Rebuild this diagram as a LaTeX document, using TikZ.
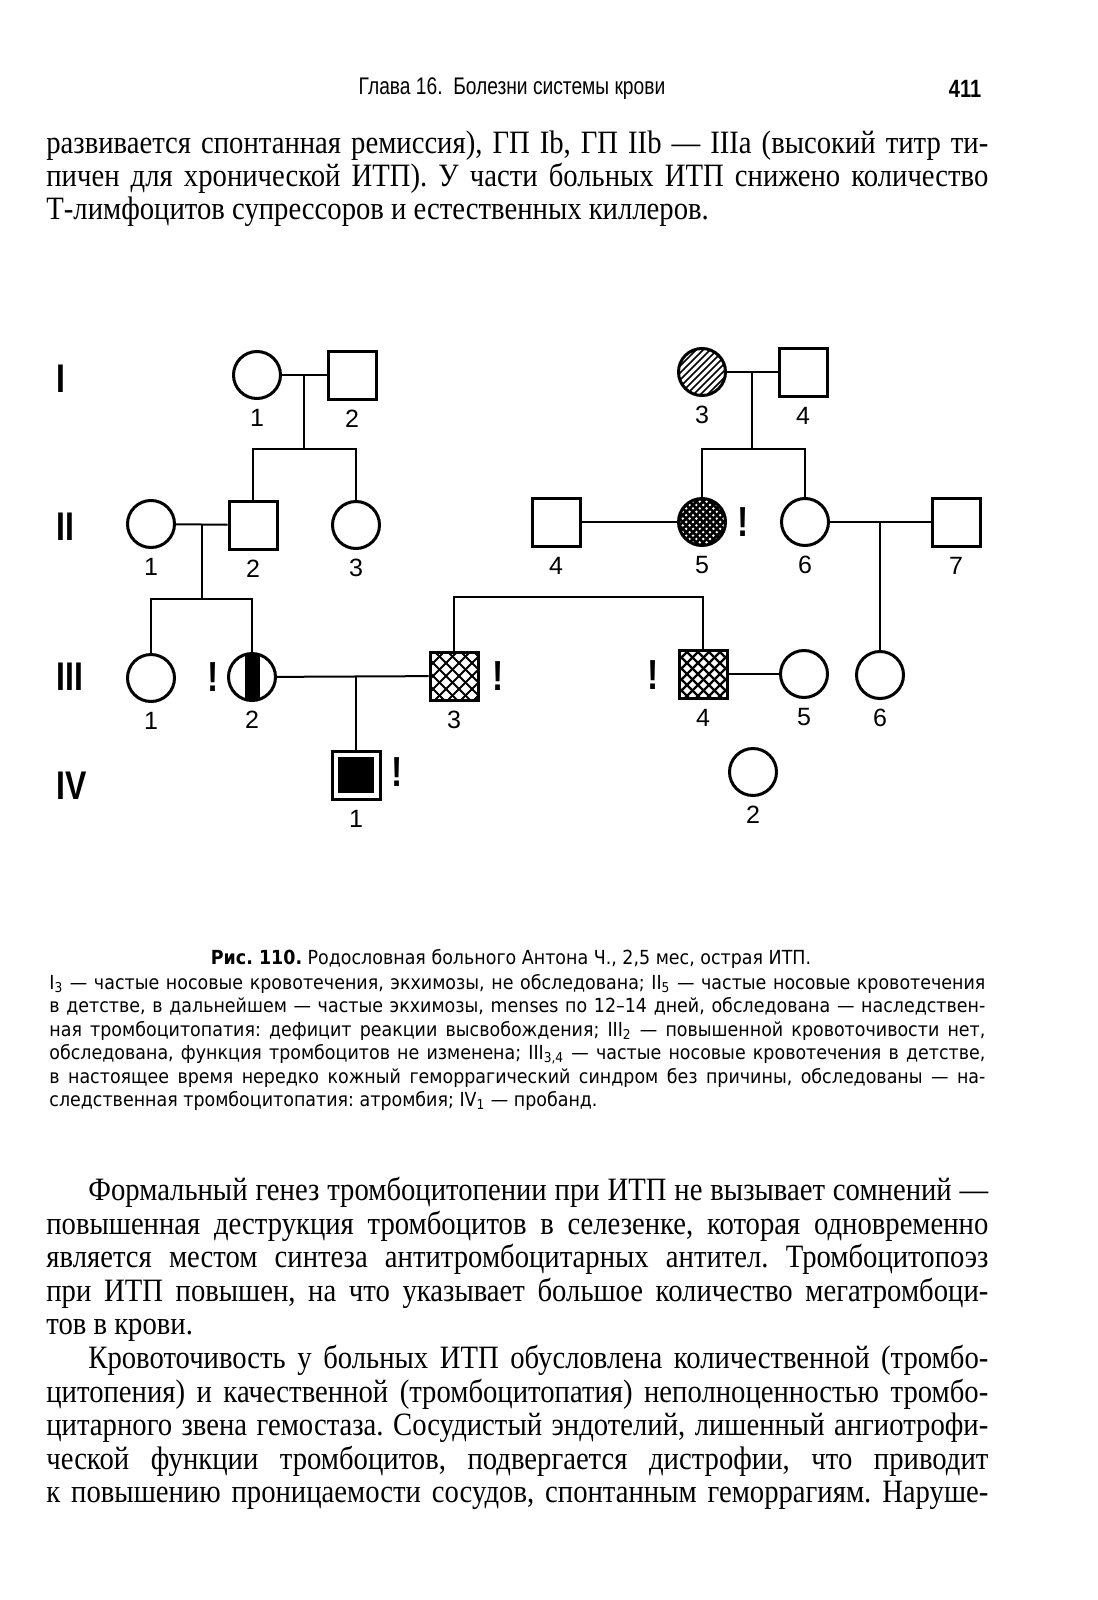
\documentclass[tikz,border=0pt]{standalone}
\usepackage{fontspec}
\setmainfont{Liberation Serif}[FakeStretch=0.88]
\newfontfamily\capfont{DejaVu Sans}[FakeStretch=0.9]
\newfontfamily\pedfont{Liberation Sans}
\newfontfamily\romfont{Liberation Sans}[FakeStretch=0.8]
\newfontfamily\headfont{Liberation Sans}[FakeStretch=0.8]
\newcommand{\fullline}[2]{\makebox[#1][s]{#2}}
\newcommand{\bodysize}{\fontsize{16.3}{19}\selectfont}
\newcommand{\capsize}{\capfont\fontsize{9.7}{12}\selectfont}
\frenchspacing

\begin{document}
\begin{tikzpicture}[x=0.5pt, y=-0.5pt,
  female/.style={circle, draw, line width=1.5pt, minimum size=23.5pt, inner sep=0pt},
  male/.style={rectangle, draw, line width=1.5pt, minimum size=24pt, inner sep=0pt},
  num/.style={label={[font=\pedfont\fontsize{12.5}{12.5}\selectfont, inner sep=0pt,
                      label distance=4.5pt]below:#1}},
  gen/.style={anchor=west, inner sep=0pt, font=\romfont\bfseries\fontsize{20}{20}\selectfont},
  excl/.style={inner sep=0pt, font=\romfont\bfseries\fontsize{21}{21}\selectfont},
  link/.style={line width=1pt},
  hatch/.style={path picture={\foreach \k in {-28,-24.5,...,28}
      \draw[line width=0.8pt] ([xshift=\k pt-14pt, yshift=-14pt]path picture bounding box.center)
        -- ++(28pt,28pt);}},
  xhatch/.style 2 args={path picture={\foreach \k in {-30,#1,...,30} {
      \draw[line width=#2] ([xshift=\k pt-15pt, yshift=-15pt]path picture bounding box.center)
        -- ++(30pt,30pt);
      \draw[line width=#2] ([xshift=\k pt+15pt, yshift=-15pt]path picture bounding box.center)
        -- ++(-30pt,30pt);}}},
  stripe/.style={path picture={\fill ([shift={(-3.75pt,-15pt)}]path picture bounding box.center)
      rectangle ++(7.5pt,30pt);}},
  proband/.style={path picture={\fill ([shift={(-9pt,-9pt)}]path picture bounding box.center)
      rectangle ++(18pt,18pt);}},
  txt/.style={anchor=west, inner sep=0pt, text height=0.7em, text depth=0.25em, font=\bodysize},
  captext/.style={anchor=west, inner sep=0pt, text height=0.7em, text depth=0.25em, font=\capsize}
]
\fill[white] (0,0) rectangle (1097,1600);
\useasboundingbox (0,0) rectangle (1097,1600);

% page header
\node[inner sep=0pt, font=\headfont\fontsize{12}{12}\selectfont] (head) at (512,89)
  {Глава 16.\ \ Болезни системы крови};
\node[inner sep=0pt, font=\headfont\bfseries\fontsize{12.5}{12.5}\selectfont] (page) at (965,89) {411};

% text above the figure
\node[txt] (p1a) at (46,149) {\fullline{471pt}{развивается спонтанная ремиссия), ГП Ib, ГП IIb~— IIIa (высокий титр ти-}};
\node[txt] (p1b) at (46,182) {\fullline{471pt}{пичен для хронической ИТП). У~части больных ИТП снижено количество}};
\node[txt] (p1c) at (46,215) {Т-лимфоцитов супрессоров и естественных киллеров.};

% generations
\node[gen] (gI) at (56,379) {I};
\node[gen] (gII) at (56,527) {II};
\node[gen] (gIII) at (56,677) {III};
\node[gen] (gIV) at (56,786) {IV};

% generation I
\node[female, num=1] (I1) at (257,375) {};
\node[male, num=2] (I2) at (352,375) {};
\node[female, hatch, num=3] (I3) at (702,372) {};
\node[male, num=4] (I4) at (803,372) {};

% generation II
\node[female, num=1] (II1) at (151,524) {};
\node[male, num=2] (II2) at (253,525) {};
\node[female, num=3] (II3) at (356,525) {};
\node[male, num=4] (II4) at (556,522) {};
\node[female, xhatch={-26.6}{1.3pt}, num=5] (II5) at (702,522) {};
\node[female, num=6] (II6) at (805,522) {};
\node[male, num=7] (II7) at (956,522) {};
\node[excl] (xII5) at (743,522) {!};

% generation III
\node[female, num=1] (III1) at (151,678) {};
\node[female, stripe, num=2] (III2) at (252,677) {};
\node[male, xhatch={-23.5}{1pt}, num=3] (III3) at (454,676) {};
\node[male, xhatch={-24.5}{1.2pt}, num=4] (III4) at (703,674) {};
\node[female, num=5] (III5) at (804,674) {};
\node[female, num=6] (III6) at (880,675) {};
\node[excl] (xIII2) at (213,677) {!};
\node[excl] (xIII3) at (498,676) {!};
\node[excl] (xIII4) at (653,675) {!};

% generation IV
\node[male, proband, num=1] (IV1) at (356,775) {};
\node[female, num=2] (IV2) at (753,772) {};
\node[excl] (xIV1) at (397,772) {!};

% marriages and descent
\draw[link] (I1) -- coordinate[midway] (mI12) (I2);
\draw[link] (mI12) -- ++(0,74) coordinate (sI12);
\draw[link] (II2.north) |- (sI12) -| (II3.north);

\draw[link] (I3) -- coordinate[midway] (mI34) (I4);
\draw[link] (mI34) -- ++(0,77) coordinate (sI34);
\draw[link] (II5.north) |- (sI34) -| (II6.north);

\draw[link] (II1) -- coordinate[midway] (mII12) (II2);
\draw[link] (mII12) -- ++(0,74) coordinate (sII12);
\draw[link] (III1.north) |- (sII12) -| (III2.north);

\draw[link] (II4) -- (II5);
\coordinate (sIII34) at (578,597);
\draw[link] (III3.north) |- (sIII34) -| (III4.north);

\draw[link] (II6) -- coordinate[midway] (mII67) (II7);
\draw[link] (mII67) -- (mII67 |- III6.north);

\draw[link] (III2) -- coordinate[midway] (mIII23) (III3);
\draw[link] (IV1.north) -- (IV1.north |- mIII23);
\draw[link] (III4) -- (III5);

% caption
\node[inner sep=0pt, text height=0.7em, text depth=0.25em, font=\capsize] (cap1) at (511,960)
  {\textbf{Рис. 110.} Родословная больного Антона Ч., 2,5 мес, острая ИТП.};
\node[captext] (cap2) at (49,985) {\fullline{468pt}{I\textsubscript{3}~— частые носовые кровотечения, экхимозы, не обследована; II\textsubscript{5}~— частые носовые кровотечения}};
\node[captext] (cap3) at (49,1008) {\fullline{468pt}{в детстве, в дальнейшем~— частые экхимозы, menses по 12–14 дней, обследована~— наследствен-}};
\node[captext] (cap4) at (49,1032) {\fullline{468pt}{ная тромбоцитопатия: дефицит реакции высвобождения; III\textsubscript{2}~— повышенной кровоточивости нет,}};
\node[captext] (cap5) at (49,1055) {\fullline{468pt}{обследована, функция тромбоцитов не изменена; III\textsubscript{3,4}~— частые носовые кровотечения в детстве,}};
\node[captext] (cap6) at (49,1079) {\fullline{468pt}{в настоящее время нередко кожный геморрагический синдром без причины, обследованы~— на-}};
\node[captext] (cap7) at (49,1102) {следственная тромбоцитопатия: атромбия; IV\textsubscript{1}~— пробанд.};

% text below the figure
\node[txt] (p2a) at (88,1196) {\fullline{450pt}{Формальный генез тромбоцитопении при ИТП не вызывает сомнений~—}};
\node[txt] (p2b) at (46,1230) {\fullline{471pt}{повышенная деструкция тромбоцитов в селезенке, которая одновременно}};
\node[txt] (p2c) at (46,1263) {\fullline{471pt}{является местом синтеза антитромбоцитарных антител. Тромбоцитопоэз}};
\node[txt] (p2d) at (46,1297) {\fullline{471pt}{при ИТП повышен, на что указывает большое количество мегатромбоци-}};
\node[txt] (p2e) at (46,1330) {тов в крови.};

\node[txt] (p3a) at (88,1364) {\fullline{450pt}{Кровоточивость у больных ИТП обусловлена количественной (тромбо-}};
\node[txt] (p3b) at (46,1398) {\fullline{471pt}{цитопения) и качественной (тромбоцитопатия) неполноценностью тромбо-}};
\node[txt] (p3c) at (46,1431) {\fullline{471pt}{цитарного звена гемостаза. Сосудистый эндотелий, лишенный ангиотрофи-}};
\node[txt] (p3d) at (46,1465) {\fullline{471pt}{ческой функции тромбоцитов, подвергается дистрофии, что приводит}};
\node[txt] (p3e) at (46,1498) {\fullline{471pt}{к повышению проницаемости сосудов, спонтанным геморрагиям. Наруше-}};
\end{tikzpicture}
\end{document}
